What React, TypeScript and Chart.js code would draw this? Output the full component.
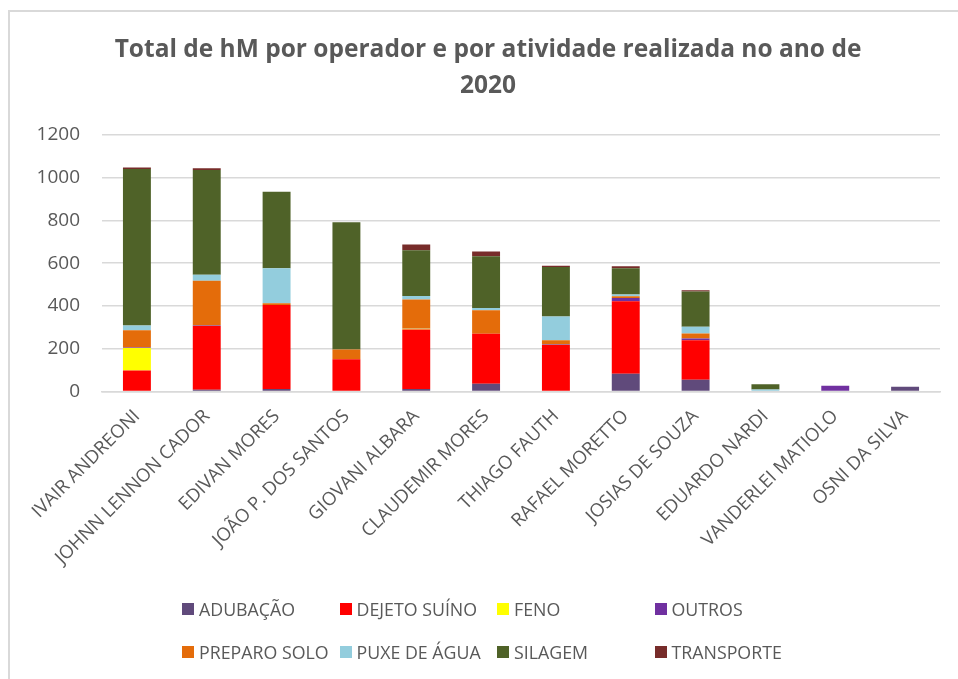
import React, { useEffect, useRef } from "react";
import { Chart, registerables } from "chart.js";

Chart.register(...registerables);

const categories = [
  "IVAIR ANDREONI",
  "JOHNN LENNON CADOR",
  "EDIVAN MORES",
  "JOÃO P. DOS SANTOS",
  "GIOVANI ALBARA",
  "CLAUDEMIR MORES",
  "THIAGO FAUTH",
  "RAFAEL MORETTO",
  "JOSIAS DE SOUZA",
  "EDUARDO NARDI",
  "VANDERLEI MATIOLO",
  "OSNI DA SILVA",
];

const adubacao = [0, 8, 11, 0, 11, 36, 0, 83, 55, 0, 0, 22];
const dejetoSuino = [98, 298, 394, 150, 279, 234, 217, 339, 185, 0, 0, 0];
const feno = [105, 0, 0, 0, 3, 0, 0, 0, 0, 0, 0, 0];
const outros = [3, 2, 0, 0, 2, 0, 3, 15, 8, 0, 27, 0];
const preparoSolo = [80, 210, 8, 46, 135, 110, 19, 8, 23, 0, 0, 0];
const puxeDeAgua = [22, 28, 164, 0, 16, 10, 112, 9, 32, 9, 0, 0];
const silagem = [733, 490, 357, 596, 215, 243, 231, 123, 165, 25, 0, 0];
const transporte = [7, 8, 0, 0, 27, 22, 6, 9, 5, 0, 0, 0];

const yTicksMax = 1200;
const yTicksStep = 200;

const titleLines = ["Total de hM por operador e por atividade realizada no ano de", "2020"];

const seriesDefs = [
  { label: "ADUBAÇÃO", data: adubacao, color: "#604A7B" },
  { label: "DEJETO SUÍNO", data: dejetoSuino, color: "#FF0000" },
  { label: "FENO", data: feno, color: "#FFFF00" },
  { label: "OUTROS", data: outros, color: "#7030A0" },
  { label: "PREPARO SOLO", data: preparoSolo, color: "#E46C0A" },
  { label: "PUXE DE ÁGUA", data: puxeDeAgua, color: "#93CDDD" },
  { label: "SILAGEM", data: silagem, color: "#4F6228" },
  { label: "TRANSPORTE", data: transporte, color: "#772C2A" },
];

const FONT = "'Open Sans', 'Liberation Sans', sans-serif";

export default function App() {
  const canvasRef = useRef<HTMLCanvasElement | null>(null);

  useEffect(() => {
    if (!canvasRef.current) return;
    const chart = new Chart(canvasRef.current, {
      type: "bar",
      data: {
        labels: categories,
        datasets: seriesDefs.map((s) => ({
          label: s.label,
          data: s.data,
          backgroundColor: s.color,
          borderWidth: 0,
          barPercentage: 0.4,
          categoryPercentage: 1,
        })),
      },
      options: {
        animation: false,
        responsive: false,
        maintainAspectRatio: false,
        layout: { padding: { left: 36, right: 18, top: 32, bottom: 0 } },
        plugins: {
          legend: { display: false },
          tooltip: { enabled: false },
          title: {
            display: true,
            text: titleLines,
            color: "#595959",
            font: { family: FONT, size: 24.5, weight: "bold", lineHeight: 1.47 },
            padding: { top: 0, bottom: 31 },
          },
        },
        scales: {
          x: {
            stacked: true,
            grid: { display: false, drawTicks: false },
            border: { display: true, color: "#d9d9d9", width: 1.5 },
            ticks: {
              color: "#595959",
              font: { family: FONT, size: 18.5 },
              minRotation: 45,
              maxRotation: 45,
              autoSkip: false,
              padding: 14,
            },
          },
          y: {
            stacked: true,
            min: 0,
            max: yTicksMax,
            grid: { color: "#d9d9d9", lineWidth: 1.5, drawTicks: false },
            border: { display: false },
            ticks: {
              stepSize: yTicksStep,
              color: "#595959",
              font: { family: FONT, size: 19 },
              padding: 22,
              callback: (v: any) => String(v),
            },
            afterFit: (scale: any) => {
              scale.width = 66;
            },
          },
        },
      },
    });
    return () => chart.destroy();
  }, []);

  return (
    <div
      style={{
        position: "fixed",
        left: 0,
        top: 0,
        width: 958,
        height: 679,
        overflow: "hidden",
        background: "#fff",
      }}
    >
      <canvas
        ref={canvasRef}
        width={958}
        height={583}
        style={{ position: "absolute", left: 0, top: 0, width: 958, height: 583 }}
      />
      <div
        style={{
          position: "absolute",
          left: 8,
          top: 10,
          width: 1000,
          height: 700,
          border: "2px solid #d9d9d9",
          boxSizing: "border-box",
          pointerEvents: "none",
        }}
      />
      <div
        style={{
          position: "absolute",
          left: 182,
          top: 597,
          width: 640,
          display: "grid",
          gridTemplateColumns: "157.5px 157.5px 157.5px 157.5px",
          rowGap: 19,
          fontFamily: FONT,
          fontSize: 17.8,
          color: "#595959",
        }}
      >
        {seriesDefs.map((s) => (
          <div key={s.label} style={{ display: "flex", alignItems: "center", height: 24, whiteSpace: "nowrap" }}>
            <span
              style={{
                display: "inline-block",
                width: 12,
                height: 12,
                background: s.color,
                marginRight: 5,
                flex: "none",
              }}
            />
            <span>{s.label}</span>
          </div>
        ))}
      </div>
    </div>
  );
}
